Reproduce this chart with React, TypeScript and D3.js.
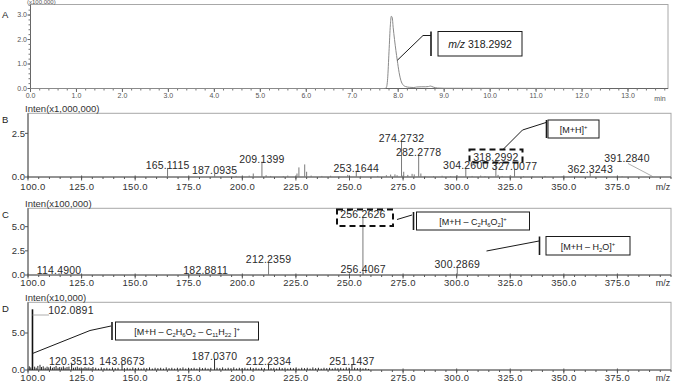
import React from 'react';
import * as d3 from 'd3';

const FONT = "'Liberation Sans', Arial, Helvetica, sans-serif";

// ---------- Panel A: extracted ion chromatogram (x100,000) ----------
const chromTime = [0, 7.7, 7.74, 7.77, 7.8, 7.83, 7.85, 7.87, 7.89, 7.92, 7.95, 7.98, 8.02, 8.06, 8.1, 8.16, 8.24, 8.34, 8.4, 8.5, 8.6, 8.66, 8.7, 8.76, 8.85, 9.0, 12.4];
const chromInten = [0, 0, 0.03, 0.4, 1.5, 2.6, 2.95, 2.9, 2.5, 2.0, 1.55, 1.15, 0.65, 0.32, 0.16, 0.08, 0.05, 0.04, 0.06, 0.07, 0.07, 0.08, 0.1, 0.06, 0.02, 0.01, 0];
const timeTicks = [0, 1, 2, 3, 4, 5, 6, 7, 8, 9, 10, 11, 12, 13];
const chromYTicks = [0, 1, 2, 3];

// ---------- Panel B: MS (x1,000,000) ----------
const peaksB: [number, number][] = [
  [165.1115, 0.52], [187.0935, 0.21], [195.1, 0.05], [197.1, 0.06], [203.2, 0.08], [205.1, 0.2],
  [209.1399, 0.88], [211.1, 0.1], [213.2, 0.06], [219.1, 0.05], [221.2, 0.08], [225.5, 0.2],
  [226.4, 0.55], [229.1, 0.72], [230.0, 0.3], [232.1, 0.08], [237.1, 0.06], [241.2, 0.07],
  [245.1, 0.05], [249.2, 0.12], [253.1644, 0.36], [255.2, 0.06], [263.2, 0.06], [267.2, 0.1],
  [269.2, 0.14], [271.2, 0.15], [272.2, 0.1], [274.2732, 2.08], [275.3, 0.3], [277.2, 0.12],
  [279.2, 0.18], [280.2, 0.15], [282.2778, 1.28], [283.3, 0.2], [285.2, 0.06], [289.2, 0.05],
  [293.2, 0.07], [297.2, 0.05], [300.2, 0.1], [304.26, 0.52], [307.2, 0.06], [311.2, 0.08],
  [313.2, 0.05], [318.2992, 0.97], [319.3, 0.12], [321.2, 0.06], [325.2, 0.07], [327.0077, 0.46],
  [331.2, 0.05], [335.2, 0.05], [341.2, 0.06], [349.2, 0.04], [355.2, 0.05], [362.3243, 0.27],
  [369.2, 0.04], [377.2, 0.04], [391.284, 0.04],
];
const labelsB = [165.1115, 187.0935, 209.1399, 253.1644, 274.2732, 282.2778, 304.26, 318.2992, 327.0077, 362.3243];
const offsetLabelB = 391.284;
const yTicksB = [0, 2.5];

// ---------- Panel C: MS/MS (x100,000) ----------
const peaksC: [number, number][] = [
  [114.49, 0.2], [182.8811, 0.2], [212.2359, 1.31], [256.4067, 0.28], [256.2626, 5.97], [300.2869, 0.8],
];
const labelsC = [114.49, 182.8811, 212.2359, 256.2626, 256.4067, 300.2869];
const yTicksC = [0, 2.5, 5.0];

// ---------- Panel D: MS3 (x10,000) ----------
const peaksD: [number, number][] = [
  [100.6, 0.5], [101.3, 0.35], [102.0891, 8.2], [103.1, 0.45], [103.8, 0.3], [104.6, 0.55], [105.6, 0.7],
  [106.3, 0.4], [107.1, 0.5], [108.0, 0.3], [108.9, 0.45], [109.7, 0.35], [110.5, 0.5], [111.4, 0.3],
  [112.2, 0.4], [113.1, 0.55], [114.0, 0.3], [114.8, 0.4], [115.7, 0.35], [116.5, 0.5], [117.3, 0.3],
  [118.2, 0.4], [119.1, 0.45], [120.3513, 0.8], [121.2, 0.3], [122.1, 0.35], [123.0, 0.45], [123.9, 0.3],
  [124.8, 0.35], [125.7, 0.25], [126.6, 0.4], [127.5, 0.3], [128.4, 0.35], [129.4, 0.25], [130.3, 0.4],
  [131.6, 0.3], [132.9, 0.2], [134.2, 0.35], [135.5, 0.25], [136.8, 0.3], [138.1, 0.2], [139.4, 0.35],
  [140.7, 0.25], [142.0, 0.3], [143.8673, 0.8], [145.0, 0.25], [146.3, 0.3], [147.6, 0.2], [148.9, 0.35],
  [150.2, 0.25], [151.5, 0.3], [152.8, 0.2], [154.1, 0.3], [155.4, 0.25], [156.7, 0.35], [158.0, 0.2],
  [159.3, 0.3], [160.6, 0.25], [161.9, 0.3], [163.2, 0.2], [164.5, 0.35], [165.8, 0.25], [167.1, 0.3],
  [168.4, 0.2], [169.7, 0.3], [171.0, 0.25], [172.3, 0.35], [173.6, 0.2], [174.9, 0.3], [176.2, 0.25],
  [177.5, 0.3], [178.8, 0.2], [180.1, 0.35], [181.4, 0.25], [182.7, 0.3], [184.0, 0.2], [185.3, 0.3],
  [187.037, 1.5], [188.2, 0.3], [189.5, 0.25], [190.8, 0.35], [192.1, 0.2], [193.4, 0.3], [194.7, 0.25],
  [196.0, 0.35], [197.3, 0.2], [198.6, 0.3], [199.9, 0.25], [201.2, 0.3], [202.5, 0.2], [203.8, 0.35],
  [205.1, 0.25], [206.4, 0.3], [207.7, 0.2], [209.0, 0.3], [210.3, 0.25], [212.2334, 0.8], [213.4, 0.25],
  [214.7, 0.3], [216.0, 0.2], [217.3, 0.35], [218.6, 0.25], [219.9, 0.3], [221.2, 0.2], [222.5, 0.3],
  [223.8, 0.25], [225.1, 0.35], [226.4, 0.2], [227.7, 0.3], [229.0, 0.25], [230.3, 0.3], [231.6, 0.2],
  [232.9, 0.35], [234.2, 0.25], [235.5, 0.3], [236.8, 0.2], [238.1, 0.3], [239.4, 0.25], [240.7, 0.3],
  [242.0, 0.2], [243.3, 0.3], [244.6, 0.25], [245.9, 0.3], [247.2, 0.2], [248.5, 0.35], [249.8, 0.3],
  [251.1437, 0.8], [252.4, 0.3], [253.7, 0.25], [255.0, 0.3], [256.3, 0.2], [257.6, 0.25], [258.9, 0.15],
];
const labelsD = [120.3513, 143.8673, 187.037, 212.2334, 251.1437];
const offsetLabelD = 102.0891;
const yTicksD = [0, 5.0];

const mzTicks = [100, 125, 150, 175, 200, 225, 250, 275, 300, 325, 350, 375];

// ---------- scales ----------
const aX = d3.scaleLinear().domain([0, 13.87]).range([30.5, 668]);
const aY = d3.scaleLinear().domain([0, 3.43]).range([88.5, 4.5]);
const msX = d3.scaleLinear().domain([100, 400]).range([28, 671]);
const bY = d3.scaleLinear().domain([0, 3.65]).range([177, 113.3]);
const cY = d3.scaleLinear().domain([0, 6.9]).range([275, 208.3]);
const dY = d3.scaleLinear().domain([0, 9.15]).range([370, 302.3]);

type Part = [string, string];
function Formula({ x, y, parts, size }: { x: number; y: number; parts: Part[]; size: number }) {
  let shift = 0;
  const els = parts.map(([t, k], i) => {
    const target = k === 'sub' ? size * 0.3 : k === 'sup' ? -size * 0.4 : 0;
    const dy = target - shift;
    shift = target;
    return (
      <tspan key={i} dy={dy} fontSize={k ? size * 0.65 : size}>
        {t}
      </tspan>
    );
  });
  return (
    <text x={x} y={y} textAnchor="middle" fontSize={size} fontFamily={FONT} fill="#1a1a1a">
      {els}
    </text>
  );
}

function MSAxes({ y, yTicks, top, letter, title, xLabelY }: any) {
  const y0 = y(0);
  const minor = msX.ticks(60);
  return (
    <g>
      <rect x={28} y={top} width={671 - 28} height={y0 - top} fill="none" stroke="#a8a8a8" strokeWidth={1} />
      <line x1={28} x2={28} y1={top} y2={y0} stroke="#555" />
      <line x1={28} x2={671} y1={y0} y2={y0} stroke="#555" />
      {minor.map((v) => (
        <line key={'m' + v} x1={msX(v)} x2={msX(v)} y1={y0} y2={y0 + 2} stroke="#555" />
      ))}
      {mzTicks.map((v) => (
        <line key={'M' + v} x1={msX(v)} x2={msX(v)} y1={y0 - 1.5} y2={y0 + 3.5} stroke="#555" />
      ))}
      {mzTicks.map((v, i) => (
        <text key={'t' + v} x={msX(v) + (i === 0 ? 5 : 0)} y={xLabelY} textAnchor="middle" fontSize={9.5} fontFamily={FONT} fill="#333" letterSpacing={0.3}>
          {v.toFixed(1)}
        </text>
      ))}
      <text x={663} y={xLabelY} textAnchor="middle" fontSize={9} fontFamily={FONT} fill="#333">m/z</text>
      {yTicks.map((v: number) => (
        <g key={'y' + v}>
          <line x1={25} x2={28} y1={y(v)} y2={y(v)} stroke="#555" />
          <text x={25} y={y(v)} dy="0.35em" textAnchor="end" fontSize={9.5} fontFamily={FONT} fill="#333">
            {v.toFixed(1)}
          </text>
        </g>
      ))}
      <text x={25} y={top - 1.8} fontSize={9.5} fontFamily={FONT} fill="#333">{title}</text>
      <text x={2} y={top + 10} fontSize={9.5} fontFamily={FONT} fill="#222">{letter}</text>
    </g>
  );
}

function Peaks({ peaks, y, color, width }: any) {
  return (
    <g>
      {peaks.map(([m, h]: [number, number], i: number) => (
        <line key={i} x1={msX(m)} x2={msX(m)} y1={y(0)} y2={y(h)} stroke={color} strokeWidth={width} />
      ))}
    </g>
  );
}

function PeakLabels({ peaks, labels, y }: any) {
  const hOf = (m: number) => (peaks.find((p: [number, number]) => p[0] === m) || [m, 0])[1];
  return (
    <g>
      {labels.map((m: number) => (
        <text key={m} x={msX(m)} y={y(hOf(m)) + 1} textAnchor="middle" fontSize={10.5} fontFamily={FONT} fill="#2a2a2a" letterSpacing={0.2}>
          {m.toFixed(4)}
        </text>
      ))}
    </g>
  );
}

function Callout({ leader, barX, top, bottom, boxX, boxW, children }: any) {
  return (
    <g>
      <polyline points={leader.map((p: number[]) => p.join(',')).join(' ')} fill="none" stroke="#1a1a1a" strokeWidth={1} />
      <line x1={barX} x2={barX} y1={top} y2={bottom} stroke="#1a1a1a" strokeWidth={1.6} />
      <rect x={boxX} y={top} width={boxW} height={bottom - top} fill="#fff" stroke="#1a1a1a" strokeWidth={1} />
      {children}
    </g>
  );
}

export default function App() {
  const chromLine = d3
    .line<number>()
    .x((_, i) => aX(chromTime[i]))
    .y((v) => aY(v))
    .curve(d3.curveMonotoneX)(chromInten) as string;

  const aMinorX = d3.range(0, 13.81, 0.2);
  const aMinorY = d3.range(0, 3.41, 0.2);

  const hB = (m: number) => (peaksB.find((p) => p[0] === m) as [number, number])[1];
  const hC = (m: number) => (peaksC.find((p) => p[0] === m) as [number, number])[1];
  const hD = (m: number) => (peaksD.find((p) => p[0] === m) as [number, number])[1];

  return (
    <svg width={678} height={381} style={{ position: 'absolute', left: 0, top: 0, background: '#fff' }} shapeRendering="auto">
      <rect x={0} y={0} width={678} height={381} fill="#fff" />

      {/* ---------------- Panel A ---------------- */}
      <g>
        <rect x={30.5} y={4.5} width={668 - 30.5} height={88.5 - 4.5} fill="none" stroke="#a8a8a8" />
        <line x1={30.5} x2={30.5} y1={4.5} y2={88.5} stroke="#666" />
        <line x1={30.5} x2={668} y1={88.5} y2={88.5} stroke="#666" />
        {aMinorX.map((v) => (
          <line key={'ax' + v} x1={aX(v)} x2={aX(v)} y1={88.5} y2={90.5} stroke="#777" />
        ))}
        {timeTicks.map((v) => (
          <line key={'aX' + v} x1={aX(v)} x2={aX(v)} y1={88.5} y2={92} stroke="#666" />
        ))}
        {timeTicks.map((v) => (
          <text key={'at' + v} x={aX(v)} y={98} textAnchor="middle" fontSize={7} fontFamily={FONT} fill="#555">
            {v.toFixed(1)}
          </text>
        ))}
        <text x={660} y={101} textAnchor="middle" fontSize={7} fontFamily={FONT} fill="#555">min</text>
        {aMinorY.map((v) => (
          <line key={'ay' + v} x1={28.5} x2={30.5} y1={aY(v)} y2={aY(v)} stroke="#777" />
        ))}
        {chromYTicks.map((v) => (
          <g key={'aY' + v}>
            <line x1={27.5} x2={30.5} y1={aY(v)} y2={aY(v)} stroke="#666" />
            <text x={27} y={aY(v)} dy="0.35em" textAnchor="end" fontSize={7} fontFamily={FONT} fill="#555">
              {v.toFixed(1)}
            </text>
          </g>
        ))}
        <text x={27} y={4} fontSize={6} fontFamily={FONT} fill="#555">(x100,000)</text>
        <text x={2} y={18} fontSize={9.5} fontFamily={FONT} fill="#222">A</text>
        <path d={chromLine} fill="none" stroke="#8a8a8a" strokeWidth={1} />
        <Callout
          leader={[[aX(7.98), aY(1.15)], [423, 35.5], [431, 35.5]]}
          barX={431}
          top={31.5}
          bottom={56}
          boxX={438}
          boxW={84}
        >
          <text x={480} y={47.5} textAnchor="middle" fontSize={10.5} fontFamily={FONT} fill="#1a1a1a">
            <tspan fontStyle="italic">m/z</tspan> 318.2992
          </text>
        </Callout>
      </g>

      {/* ---------------- Panel B ---------------- */}
      <MSAxes y={bY} yTicks={yTicksB} top={113.3} letter="B" title="Inten(x1,000,000)" xLabelY={189.5} />
      <Peaks peaks={peaksB} y={bY} color="#7a7a7a" width={1} />
      <PeakLabels peaks={peaksB} labels={labelsB} y={bY} />
      <text x={627} y={161.5} textAnchor="middle" fontSize={10.5} fontFamily={FONT} fill="#2a2a2a" letterSpacing={0.2}>
        {offsetLabelB.toFixed(4)}
      </text>
      <line x1={628} y1={163.5} x2={msX(offsetLabelB)} y2={bY(hB(offsetLabelB))} stroke="#999" strokeWidth={0.8} />
      <rect x={469.5} y={149.5} width={53} height={13} fill="none" stroke="#111" strokeWidth={2} strokeDasharray="6 4" />
      <Callout leader={[[503, 149.5], [522.5, 130], [546, 122.5]]} barX={546.5} top={120} bottom={138} boxX={548} boxW={51}>
        <Formula x={573.5} y={132.5} parts={[['[M+H]', ''], ['+', 'sup']]} size={9} />
      </Callout>

      {/* ---------------- Panel C ---------------- */}
      <MSAxes y={cY} yTicks={yTicksC} top={208.3} letter="C" title="Inten(x100,000)" xLabelY={286} />
      <Peaks peaks={peaksC} y={cY} color="#7a7a7a" width={1} />
      <rect x={msX(256.2626) - 26} y={209.5} width={55} height={16} fill="#fff" stroke="none" />
      <line x1={msX(256.2626)} x2={msX(256.2626)} y1={cY(hC(256.2626))} y2={226} stroke="#7a7a7a" />
      <PeakLabels peaks={peaksC} labels={labelsC} y={cY} />
      <rect x={337} y={209.5} width={56} height={16.5} fill="none" stroke="#111" strokeWidth={2} strokeDasharray="6 4" />
      <Callout leader={[[397, 219.5], [412, 215]]} barX={413.5} top={212} bottom={230} boxX={416.5} boxW={113}>
        <Formula
          x={473}
          y={224.5}
          parts={[['[M+H – C', ''], ['2', 'sub'], ['H', ''], ['6', 'sub'], ['O', ''], ['2', 'sub'], [']', ''], ['+', 'sup']]}
          size={9}
        />
      </Callout>
      <Callout leader={[[486.5, 251], [539, 241]]} barX={539.5} top={236.5} bottom={255} boxX={546} boxW={84}>
        <Formula x={588} y={249.5} parts={[['[M+H – H', ''], ['2', 'sub'], ['O]', ''], ['+', 'sup']]} size={9} />
      </Callout>

      {/* ---------------- Panel D ---------------- */}
      <MSAxes y={dY} yTicks={yTicksD} top={302.3} letter="D" title="Inten(x10,000)" xLabelY={380.5} />
      <Peaks peaks={peaksD.filter((p) => p[0] !== offsetLabelD)} y={dY} color="#2a2a2a" width={1} />
      <line x1={msX(offsetLabelD)} x2={msX(offsetLabelD)} y1={dY(0)} y2={dY(hD(offsetLabelD))} stroke="#111" strokeWidth={1.6} />
      <PeakLabels peaks={peaksD} labels={labelsD} y={dY} />
      <line x1={msX(offsetLabelD)} x2={49} y1={315} y2={315} stroke="#999" strokeWidth={0.8} />
      <text x={71} y={314} textAnchor="middle" fontSize={10.5} fontFamily={FONT} fill="#2a2a2a" letterSpacing={0.2}>
        {offsetLabelD.toFixed(4)}
      </text>
      <Callout leader={[[msX(offsetLabelD), 353.5], [90, 330.5], [111, 326]]} barX={112} top={322} bottom={340} boxX={115.5} boxW={143}>
        <Formula
          x={187}
          y={334.5}
          parts={[
            ['[M+H – C', ''], ['2', 'sub'], ['H', ''], ['6', 'sub'], ['O', ''], ['2', 'sub'],
            [' – C', ''], ['11', 'sub'], ['H', ''], ['22', 'sub'], [' ]', ''], ['+', 'sup'],
          ]}
          size={9}
        />
      </Callout>
    </svg>
  );
}
